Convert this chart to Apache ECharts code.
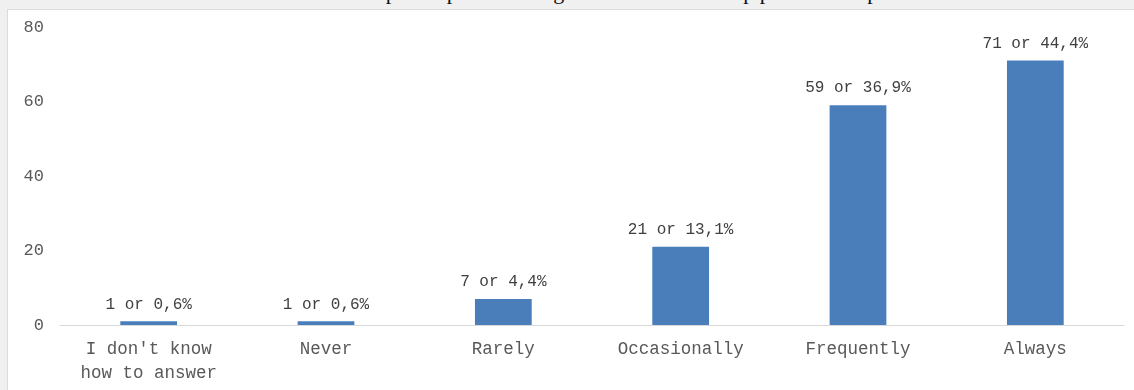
<!DOCTYPE html>
<html>
<head>
<meta charset="utf-8">
<style>
  html, body { margin: 0; padding: 0; background: #f0f0f0; }
  #wrap { position: relative; width: 1134px; height: 390px; overflow: hidden; background: #f0f0f0; }
  #chart { position: absolute; left: 7px; top: 9px; width: 1127px; height: 381px; background: #ffffff;
           border-left: 1px solid #dcdcdc; border-top: 1px solid #dcdcdc; box-sizing: border-box; }
  #caption { position: absolute; left: 40px; top: -21px; line-height: 26px; white-space: nowrap;
             font-family: "Liberation Serif", serif; font-size: 22px; color: #111; }
</style>
<script src="https://cdn.jsdelivr.net/npm/echarts@6/dist/echarts.min.js"></script>
</head>
<body>
<div id="wrap">
  <div id="caption">ra educational and scientific relationship with parents and government leadership positions in p</div>
  <div id="chart"></div>
</div>
<script>
// Answer categories, counts and percentage shares
const categories = ["I don't know\nhow to answer", "Never", "Rarely", "Occasionally", "Frequently", "Always"];
const counts = [1, 1, 7, 21, 59, 71];
const shares = ["0,6", "0,6", "4,4", "13,1", "36,9", "44,4"];
const yTicks = [0, 20, 40, 60, 80];

const mono = '"Liberation Mono", "Courier New", monospace';
const chart = echarts.init(document.getElementById('chart'));
chart.setOption({
  animation: false,
  grid: { left: 52, right: 10, top: 17, bottom: 65 },
  xAxis: {
    type: 'category',
    data: categories,
    axisLine: { lineStyle: { color: '#d9d9d9', width: 1 } },
    axisTick: { show: false },
    axisLabel: { color: '#595959', fontFamily: mono, fontSize: 17.5, lineHeight: 24, margin: 12, interval: 0 }
  },
  yAxis: {
    type: 'value',
    min: yTicks[0],
    max: yTicks[yTicks.length - 1],
    interval: 20,
    splitLine: { show: false },
    axisLine: { show: false },
    axisTick: { show: false },
    axisLabel: { color: '#595959', fontFamily: mono, fontSize: 17, margin: 16 }
  },
  series: [{
    type: 'bar',
    data: counts,
    barWidth: '32%',
    itemStyle: { color: '#4a7ebb' },
    label: {
      show: true,
      position: 'top',
      distance: 9,
      color: '#404040',
      fontFamily: mono,
      fontSize: 16,
      formatter: p => counts[p.dataIndex] + ' or ' + shares[p.dataIndex] + '%'
    }
  }]
});
</script>
</body>
</html>
